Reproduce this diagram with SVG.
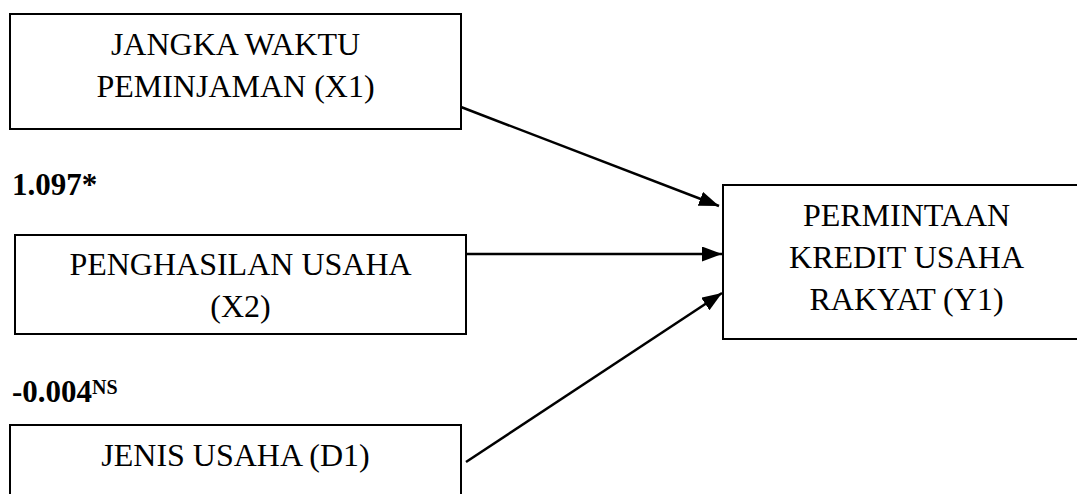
<svg xmlns="http://www.w3.org/2000/svg" width="1077" height="494" viewBox="0 0 1077 494">
<style>
.box{fill:#fff;stroke:#000;stroke-width:2}
.t{font-family:"Liberation Serif","Times New Roman",serif;font-size:32px;fill:#000;text-anchor:middle}
.b{font-family:"Liberation Serif","Times New Roman",serif;font-size:31px;font-weight:bold;fill:#000}
.c{stroke:#000;stroke-width:2.5;fill:none;marker-end:url(#ah)}
</style>
<defs>
<marker id="ah" markerWidth="20" markerHeight="15" refX="20" refY="7.5" orient="auto" markerUnits="userSpaceOnUse" viewBox="0 0 20 15">
<path d="M0,0 L20,7.5 L0,15 Z" fill="#000"/>
</marker>
</defs>
<g id="x1">
<rect class="box" x="10" y="14" width="451" height="115"/>
<text class="t" x="235.5" y="55">JANGKA WAKTU</text>
<text class="t" x="235.5" y="97">PEMINJAMAN (X1)</text>
</g>
<g id="x2">
<rect class="box" x="15" y="235" width="451" height="99"/>
<text class="t" x="240.5" y="275">PENGHASILAN USAHA</text>
<text class="t" x="240.5" y="317">(X2)</text>
</g>
<g id="d1">
<rect class="box" x="10" y="425" width="451" height="90"/>
<text class="t" x="235.5" y="466">JENIS USAHA (D1)</text>
</g>
<g id="y1">
<rect class="box" x="723" y="185" width="380" height="154"/>
<text class="t" x="906.5" y="226">PERMINTAAN</text>
<text class="t" x="906.5" y="268">KREDIT USAHA</text>
<text class="t" x="906.5" y="310">RAKYAT (Y1)</text>
</g>
<g id="labels">
<text class="b" x="12" y="195">1.097*</text>
<text class="b" x="12" y="402">-0.004<tspan font-size="20" dy="-8">NS</tspan></text>
</g>
<g id="connectors">
<line class="c" x1="461" y1="107" x2="719" y2="206"/>
<line class="c" x1="466" y1="254" x2="722" y2="254"/>
<line class="c" x1="466" y1="462" x2="722" y2="293"/>
</g>
</svg>
